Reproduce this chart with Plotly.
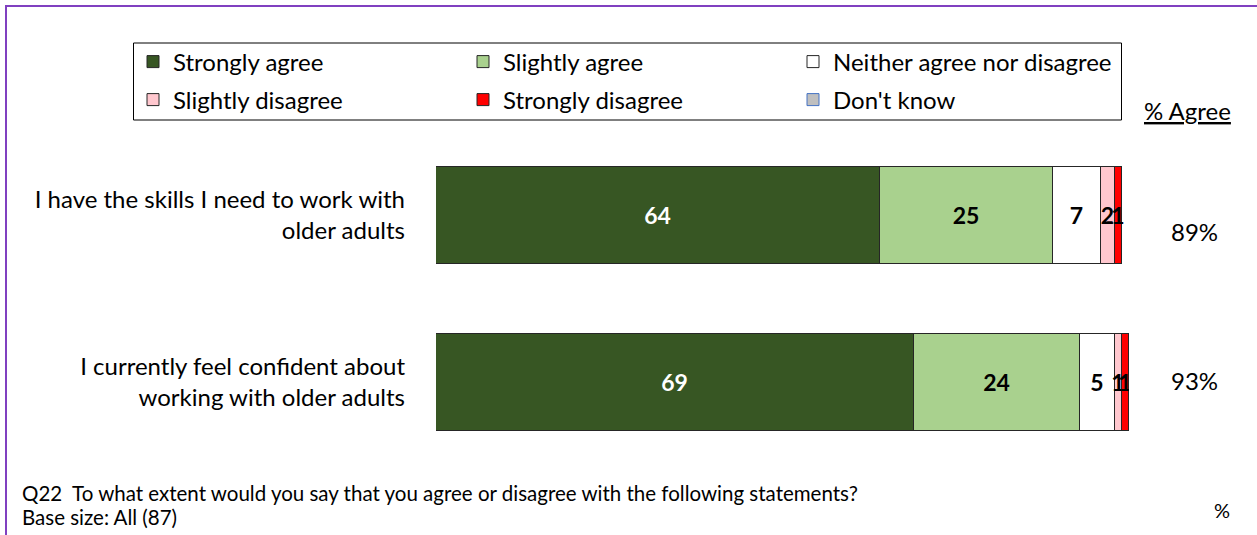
import plotly.graph_objects as go

# Survey statements (top to bottom) and response shares in percent
statements = [
    "I have the skills I need to work with<br>older adults",
    "I currently feel confident about<br>working with older adults",
]
series_names = [
    "Strongly agree",
    "Slightly agree",
    "Neither agree nor disagree",
    "Slightly disagree",
    "Strongly disagree",
    "Don't know",
]
strongly_agree = [64, 69]
slightly_agree = [25, 24]
neither = [7, 5]
slightly_disagree = [2, 1]
strongly_disagree = [1, 1]
dont_know = [0, 0]
pct_agree = ["89%", "93%"]

values = [strongly_agree, slightly_agree, neither,
          slightly_disagree, strongly_disagree, dont_know]
fills = ["#375623", "#A9D18E", "#FFFFFF", "#FFC7CE", "#FF0000", "#BFBFBF"]
edges = ["#262626", "#262626", "#262626", "#262626", "#262626", "#4472C4"]
label_colors = ["#FFFFFF", "#000000", "#000000", "#000000", "#000000", "#000000"]

FONT = "Lato"
W, H = 1257, 535
ML, MR, MT, MB = 436, 128, 132, 69
PW, PH = W - ML - MR, H - MT - MB


def px_x(x):
    return (x - ML) / PW


def px_y(y):
    return (H - MB - y) / PH


fig = go.Figure()
for i, (name, vals) in enumerate(zip(series_names, values)):
    fig.add_trace(go.Bar(
        name=name,
        orientation="h",
        y=list(range(len(statements))),
        # empty segments are left out rather than drawn at zero width
        x=[v if v > 0 else None for v in vals],
        width=0.575,
        marker=dict(color=fills[i], line=dict(color=edges[i], width=1)),
        text=[str(v) if v > 0 else "" for v in vals],
        textposition="inside",
        insidetextanchor="middle",
        constraintext="none",
        textfont=dict(family=FONT, size=23, color=label_colors[i], weight="bold"),
        legend="legend" if i < 3 else "legend2",
        hoverinfo="skip",
    ))

legend_common = dict(
    orientation="h",
    xanchor="left",
    yanchor="middle",
    x=px_x(133),
    bgcolor="rgba(0,0,0,0)",
    borderwidth=0,
    entrywidth=285,
    itemwidth=30,
    font=dict(family=FONT, size=24, color="#000000"),
    traceorder="normal",
)

fig.update_layout(
    width=W, height=H,
    margin=dict(l=ML, r=MR, t=MT, b=MB),
    paper_bgcolor="#FFFFFF",
    plot_bgcolor="#FFFFFF",
    barmode="stack",
    bargap=0,
    showlegend=True,
    legend=dict(legend_common, y=px_y(62)),
    legend2=dict(legend_common, y=px_y(100)),
    xaxis=dict(range=[0, 100], visible=False, fixedrange=True),
    yaxis=dict(
        range=[1.5, -0.5],
        tickmode="array",
        tickvals=list(range(len(statements))),
        ticktext=statements,
        showgrid=False, zeroline=False, showline=False,
        ticks="", ticklabelstandoff=30,
        tickfont=dict(family=FONT, size=24, color="#000000"),
        fixedrange=True,
    ),
    font=dict(family=FONT, color="#000000"),
)

# Legend frame and outer purple frame
fig.add_shape(type="rect", xref="paper", yref="paper",
              x0=px_x(133.5), x1=px_x(1121.5), y0=px_y(120), y1=px_y(43),
              line=dict(color="#000000", width=1), fillcolor="rgba(0,0,0,0)")
fig.add_shape(type="rect", xref="paper", yref="paper",
              x0=px_x(6), x1=px_x(1262), y0=px_y(540), y1=px_y(6),
              line=dict(color="#8040C0", width=2), fillcolor="rgba(0,0,0,0)")

# % Agree column
fig.add_annotation(text="<u>% Agree</u>", xref="paper", yref="paper",
                   x=px_x(1187), y=px_y(110), xanchor="center", yanchor="middle",
                   showarrow=False, font=dict(family=FONT, size=24))
for i, p in enumerate(pct_agree):
    fig.add_annotation(text=p, xref="paper", yref="y",
                       x=px_x(1194), y=i, yshift=-16 if i == 0 else 2,
                       xanchor="center", yanchor="middle",
                       showarrow=False, font=dict(family=FONT, size=24))

# Footnotes
fig.add_annotation(text="Q22  To what extent would you say that you agree or disagree with the following statements?",
                   xref="paper", yref="paper", x=px_x(20), y=px_y(493),
                   xanchor="left", yanchor="middle", showarrow=False,
                   font=dict(family=FONT, size=20.5))
fig.add_annotation(text="Base size: All (87)",
                   xref="paper", yref="paper", x=px_x(20), y=px_y(517),
                   xanchor="left", yanchor="middle", showarrow=False,
                   font=dict(family=FONT, size=20.5))
fig.add_annotation(text="%", xref="paper", yref="paper", x=px_x(1222), y=px_y(510),
                   xanchor="center", yanchor="middle", showarrow=False,
                   font=dict(family=FONT, size=20))

fig.write_html("out.html")
